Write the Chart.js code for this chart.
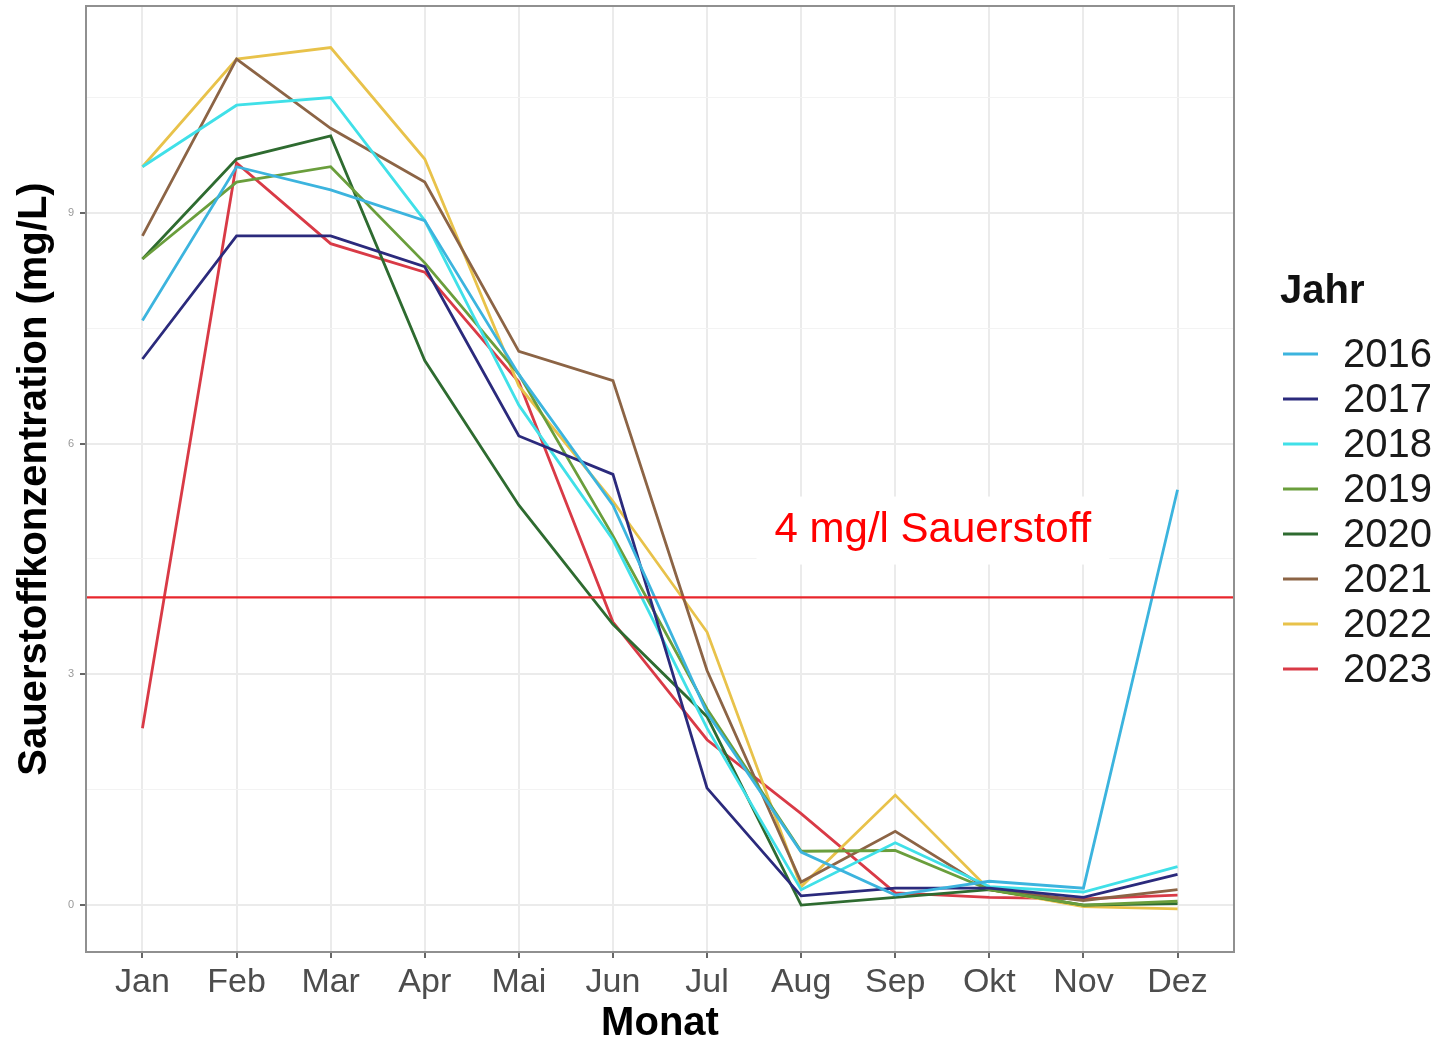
<!DOCTYPE html>
<html>
<head>
<meta charset="utf-8">
<script src="https://cdn.jsdelivr.net/npm/chart.js@4/dist/chart.umd.min.js"></script>
<style>
  body { margin: 0; background: #fff; }
  canvas { display: block; }
</style>
</head>
<body>
<canvas id="oxygenChart" width="1442" height="1045"></canvas>
<script>
// Monate (x-Achse)
const months = ['Jan', 'Feb', 'Mar', 'Apr', 'Mai', 'Jun', 'Jul', 'Aug', 'Sep', 'Okt', 'Nov', 'Dez'];

// Jahre und Farben
const years = ['2016', '2017', '2018', '2019', '2020', '2021', '2022', '2023'];
const yearColors = ['#3CB4DE', '#2B2A7C', '#40E0E8', '#6A9E3C', '#2E6B30', '#8C6445', '#E8C24A', '#D93A46'];

// Sauerstoffkonzentration (mg/L) je Jahr
const values2016 = [7.6, 9.6, 9.3, 8.9, 6.9, 5.2, 2.5, 0.69, 0.13, 0.31, 0.22, 5.4];
const values2017 = [7.1, 8.7, 8.7, 8.3, 6.1, 5.6, 1.52, 0.12, 0.22, 0.22, 0.1, 0.4];
const values2018 = [9.6, 10.4, 10.5, 8.9, 6.5, 4.75, 2.3, 0.2, 0.81, 0.24, 0.17, 0.5];
const values2019 = [8.4, 9.4, 9.6, 8.35, 6.9, 4.8, 2.55, 0.7, 0.71, 0.2, 0.0, 0.05];
const values2020 = [8.4, 9.7, 10.0, 7.08, 5.2, 3.65, 2.45, 0.0, 0.1, 0.2, 0.0, 0.02];
const values2021 = [8.7, 11.0, 10.1, 9.4, 7.2, 6.82, 3.05, 0.3, 0.96, 0.2, 0.06, 0.2];
const values2022 = [9.6, 11.0, 11.15, 9.7, 6.75, 5.25, 3.55, 0.24, 1.43, 0.2, -0.02, -0.05];
const values2023 = [2.3, 9.65, 8.6, 8.23, 6.8, 3.68, 2.15, 1.19, 0.16, 0.1, 0.08, 0.13];
const seriesValues = [values2016, values2017, values2018, values2019, values2020, values2021, values2022, values2023];

// y-Achse: beschriftete Ticks und Zwischenlinien
const yTickLabels = [0, 3, 6, 9];
const yMinorTicks = [1.5, 4.5, 7.5, 10.5];

// Grenzwert-Linie
const thresholdValue = 4;
const thresholdLabel = '4 mg/l Sauerstoff';

const FONT = "'Liberation Sans', Arial, sans-serif";

const datasets = years.map((year, i) => ({
    label: year,
    data: seriesValues[i].map((v, m) => ({ x: m, y: v })),
    borderColor: yearColors[i],
    backgroundColor: yearColors[i],
    borderWidth: 2.8,
    pointRadius: 0,
    tension: 0,
    fill: false
}));

// Rahmen, Grenzlinie, Beschriftung und Legende
const extrasPlugin = {
    id: 'extras',
    beforeDatasetsDraw(chart) {
        const { ctx, scales: { x, y } } = chart;
        ctx.save();
        ctx.font = `42px ${FONT}`;
        const w = ctx.measureText(thresholdLabel).width;
        const cx = x.getPixelForValue(8.4);
        const cy = y.getPixelForValue(4.87);
        ctx.fillStyle = '#ffffff';
        ctx.fillRect(cx - w / 2 - 18, cy - 34, w + 36, 68);
        ctx.fillStyle = '#FF0000';
        ctx.textAlign = 'center';
        ctx.textBaseline = 'middle';
        ctx.fillText(thresholdLabel, cx, cy);
        ctx.restore();
    },
    afterDatasetsDraw(chart) {
        const { ctx, chartArea, scales: { y } } = chart;
        const py = y.getPixelForValue(thresholdValue);
        ctx.save();
        ctx.strokeStyle = '#E8262C';
        ctx.lineWidth = 2.2;
        ctx.beginPath();
        ctx.moveTo(chartArea.left, py);
        ctx.lineTo(chartArea.right, py);
        ctx.stroke();
        ctx.restore();
    },
    afterDraw(chart) {
        const { ctx, chartArea } = chart;
        ctx.save();
        ctx.strokeStyle = '#909090';
        ctx.lineWidth = 2;
        ctx.strokeRect(chartArea.left, chartArea.top, chartArea.right - chartArea.left, chartArea.bottom - chartArea.top);

        // Legende
        ctx.textBaseline = 'middle';
        ctx.textAlign = 'left';
        ctx.fillStyle = '#111';
        ctx.font = `bold 40px ${FONT}`;
        ctx.fillText('Jahr', 1280, 292);
        ctx.font = `40px ${FONT}`;
        chart.data.datasets.forEach((ds, i) => {
            const ly = 354 + i * 45;
            ctx.strokeStyle = ds.borderColor;
            ctx.lineWidth = 3;
            ctx.beginPath();
            ctx.moveTo(1283, ly);
            ctx.lineTo(1318, ly);
            ctx.stroke();
            ctx.fillStyle = '#1A1A1A';
            ctx.fillText(ds.label, 1343, ly + 2);
        });
        ctx.restore();
    }
};

const ctx = document.getElementById('oxygenChart').getContext('2d');

new Chart(ctx, {
    type: 'line',
    data: { datasets },
    options: {
        responsive: false,
        animation: false,
        layout: { padding: { left: 0, top: 6, right: 208, bottom: 0 } },
        plugins: {
            legend: { display: false },
            tooltip: { enabled: false }
        },
        scales: {
            x: {
                type: 'linear',
                min: -0.6,
                max: months.length - 1 + 0.6,
                afterBuildTicks: scale => {
                    scale.ticks = months.map((m, i) => ({ value: i }));
                },
                afterFit: scale => {
                    scale.height = 93;
                    scale.paddingLeft = 0;
                    scale.paddingRight = 0;
                },
                ticks: {
                    callback: value => months[value],
                    font: { family: FONT, size: 34 },
                    color: '#4D4D4D',
                    padding: 4,
                    maxRotation: 0,
                    autoSkip: false
                },
                grid: {
                    color: '#EBEBEB',
                    lineWidth: 2,
                    tickLength: 6,
                    tickColor: '#666'
                },
                border: { display: false },
                title: {
                    display: true,
                    text: 'Monat',
                    font: { family: FONT, size: 40, weight: 'bold', lineHeight: 1 },
                    color: '#000',
                    padding: { top: 0, bottom: 1 }
                }
            },
            y: {
                min: -0.61,
                max: 11.69,
                afterBuildTicks: scale => {
                    scale.ticks = yTickLabels.concat(yMinorTicks).sort((a, b) => a - b).map(v => ({ value: v }));
                },
                afterFit: scale => {
                    scale.width = 86;
                    scale.paddingTop = 0;
                    scale.paddingBottom = 0;
                },
                ticks: {
                    callback: value => (yTickLabels.includes(value) ? String(value) : ''),
                    font: { family: FONT, size: 11 },
                    color: '#999',
                    padding: 6
                },
                grid: {
                    color: c => (yTickLabels.includes(c.tick.value) ? '#EBEBEB' : '#F3F3F3'),
                    lineWidth: c => (yTickLabels.includes(c.tick.value) ? 2 : 1),
                    tickLength: 6,
                    tickColor: c => (yTickLabels.includes(c.tick.value) ? '#666' : 'rgba(0,0,0,0)')
                },
                border: { display: false },
                title: {
                    display: true,
                    text: 'Sauerstoffkonzentration (mg/L)',
                    font: { family: FONT, size: 40, weight: 'bold', lineHeight: 1 },
                    color: '#000',
                    padding: { top: 15, bottom: 0 }
                }
            }
        }
    },
    plugins: [extrasPlugin]
});
</script>
</body>
</html>
